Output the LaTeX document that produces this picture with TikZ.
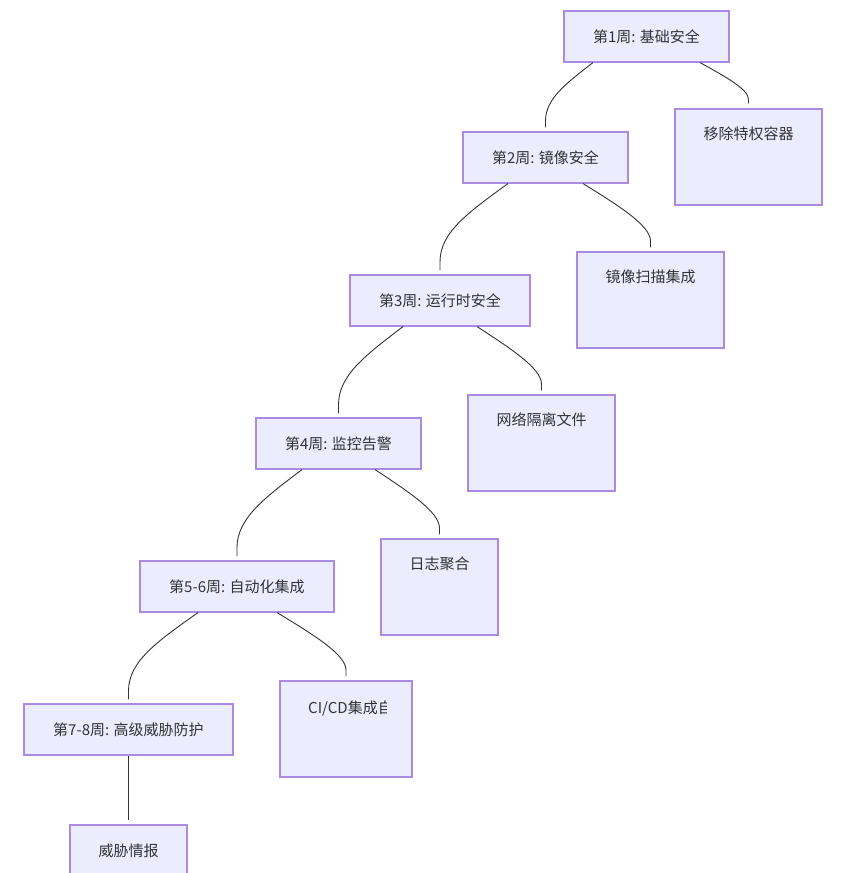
\documentclass[tikz,border=0pt]{standalone}
\usepackage{fontspec}
\setmainfont{Noto Sans CJK SC}
\usetikzlibrary{calc}
\definecolor{boxfill}{HTML}{ECECFF}
\definecolor{boxline}{HTML}{A98BE3}
\definecolor{edgecol}{HTML}{333333}
\definecolor{txt}{HTML}{333333}
\tikzset{
  wk/.style={draw=boxline, fill=boxfill, line width=1.1pt, minimum height=51pt, inner sep=0pt, text=txt, font=\fontsize{15pt}{18pt}\selectfont},
  leaf/.style={draw=boxline, fill=boxfill, line width=1.1pt, minimum height=96pt, inner sep=0pt},
  leaftxt/.style={text=txt, font=\fontsize{15pt}{18pt}\selectfont, inner sep=0pt},
  edge/.style={draw=edgecol, line width=0.9pt}
}
\newcommand\ledge[2]{%
  \draw[edge] let \p1=(#1), \p2=(#2) in (\p1) .. controls ({\x1+0.58*(\x2-\x1)},{\y1+0.33*(\y2-\y1)}) and (\x2,{\y1+0.56*(\y2-\y1)}) .. (\x2,{\y1+0.9*(\y2-\y1)}) -- (\p2);}
\newcommand\redge[2]{%
  \draw[edge] let \p1=(#1), \p2=(#2) in (\p1) .. controls ({\x1+0.5*(\x2-\x1)},{\y1+0.33*(\y2-\y1)}) and (\x2,{\y1+0.65*(\y2-\y1)}) .. (\x2,{\y1+0.9*(\y2-\y1)}) -- (\p2);}
\begin{document}
\begin{tikzpicture}[x=1pt,y=-1pt]
\useasboundingbox (0,0) rectangle (849,873);
\clip (0,0) rectangle (849,873);
% week nodes
\node[wk, minimum width=165pt] (w1) at (646.5,36.5) {第1周: 基础安全};
\node[wk, minimum width=165pt] (w2) at (545.5,157.5) {第2周: 镜像安全};
\node[wk, minimum width=180pt] (w3) at (440,300.5) {第3周: 运行时安全};
\node[wk, minimum width=165pt] (w4) at (338.5,443.5) {第4周: 监控告警};
\node[wk, minimum width=194pt] (w5) at (237,586.5) {第5-6周: 自动化集成};
\node[wk, minimum width=209pt] (w7) at (128.5,729.5) {第7-8周: 高级威胁防护};
% leaf nodes
\node[leaf, minimum width=147pt] (c1) at (748.5,157) {};
\node[leaf, minimum width=147pt] (c2) at (650.5,300) {};
\node[leaf, minimum width=147pt] (c3) at (541.5,443) {};
\node[leaf, minimum width=117pt] (c4) at (439.5,587) {};
\node[leaf, minimum width=132pt] (c5) at (346,729) {};
\node[leaf, minimum width=117pt] (c7) at (128.5,873) {};
\node[leaftxt] (t1) at ($(c1.north)+(0,-25.5pt)$) {移除特权容器};
\node[leaftxt] (t2) at ($(c2.north)+(0,-25.5pt)$) {镜像扫描集成};
\node[leaftxt] (t3) at ($(c3.north)+(0,-25.5pt)$) {网络隔离文件};
\node[leaftxt] (t4) at ($(c4.north)+(0,-25.5pt)$) {日志聚合};
\begin{scope}
\clip (290,690) rectangle (386,725);
\node[leaftxt, anchor=west] (t5) at (308,708.5) {CI/CD集成自};
\end{scope}
\node[leaftxt] (t7) at ($(c7.north)+(0,-26.5pt)$) {威胁情报};
% connector end points
\coordinate (s1l) at ($(w1.south)+(-53.5pt,0)$);
\coordinate (s1r) at ($(w1.south)+(53.5pt,0)$);
\coordinate (s2l) at ($(w2.south)+(-37.5pt,0)$);
\coordinate (s2r) at ($(w2.south)+(37.5pt,0)$);
\coordinate (s3l) at ($(w3.south)+(-37pt,0)$);
\coordinate (s3r) at ($(w3.south)+(37pt,0)$);
\coordinate (s4l) at ($(w4.south)+(-36.5pt,0)$);
\coordinate (s4r) at ($(w4.south)+(36.5pt,0)$);
\coordinate (s5l) at ($(w5.south)+(-39pt,0)$);
\coordinate (s5r) at ($(w5.south)+(40pt,0)$);
\coordinate (e2) at ($(w2.north)+(0,4pt)$);
\coordinate (e3) at ($(w3.north)+(0,4pt)$);
\coordinate (e4) at ($(w4.north)+(0,4pt)$);
\coordinate (e5) at ($(w5.north)+(0,4pt)$);
\coordinate (e7) at ($(w7.north)+(0,4pt)$);
\coordinate (ec1) at ($(c1.north)+(0,5pt)$);
\coordinate (ec2) at ($(c2.north)+(0,4pt)$);
\coordinate (ec3) at ($(c3.north)+(0,4pt)$);
\coordinate (ec4) at ($(c4.north)+(0,4pt)$);
\coordinate (ec5) at ($(c5.north)+(0,4pt)$);
\coordinate (ec7) at ($(c7.north)+(0,4pt)$);
\ledge{s1l}{e2}
\redge{s1r}{ec1}
\ledge{s2l}{e3}
\redge{s2r}{ec2}
\ledge{s3l}{e4}
\redge{s3r}{ec3}
\ledge{s4l}{e5}
\redge{s4r}{ec4}
\ledge{s5l}{e7}
\redge{s5r}{ec5}
\draw[edge] (w7.south) -- (ec7);
\end{tikzpicture}
\end{document}
